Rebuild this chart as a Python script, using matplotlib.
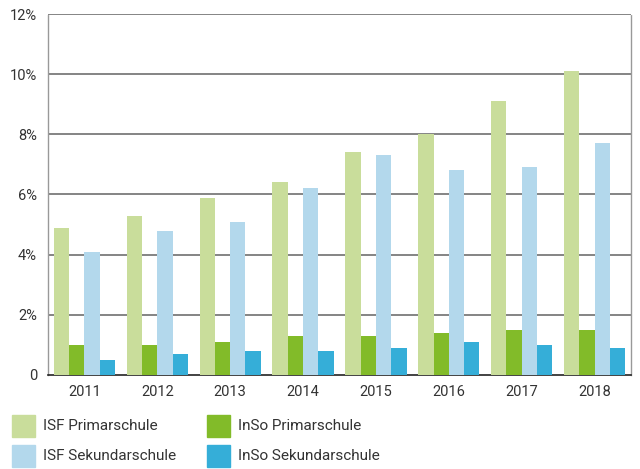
import matplotlib
matplotlib.use("Agg")
import matplotlib.pyplot as plt
from matplotlib.patches import Rectangle
import numpy as np

years = ["2011", "2012", "2013", "2014", "2015", "2016", "2017", "2018"]
series_names = ["ISF Primarschule", "InSo Primarschule", "ISF Sekundarschule", "InSo Sekundarschule"]
isf_primar = [4.9, 5.3, 5.9, 6.4, 7.4, 8.0, 9.1, 10.1]
inso_primar = [1.0, 1.0, 1.1, 1.3, 1.3, 1.4, 1.5, 1.5]
isf_sek = [4.1, 4.8, 5.1, 6.2, 7.3, 6.8, 6.9, 7.7]
inso_sek = [0.5, 0.7, 0.8, 0.8, 0.9, 1.1, 1.0, 0.9]
yticks = [0, 2, 4, 6, 8, 10, 12]
ytick_labels = ["0", "2%", "4%", "6%", "8%", "10%", "12%"]
colors = ["#c9dd9b", "#82bb29", "#b3d8ec", "#35aed8"]

plt.rcParams['font.family'] = ['Roboto', 'DejaVu Sans']

fig = plt.figure(figsize=(6.4, 4.69), dpi=100)
ax = fig.add_axes([48/640, 1-375/469, (631-48)/640, (375-14)/469])

x = np.arange(len(years))
w = 0.21
data = [isf_primar, inso_primar, isf_sek, inso_sek]
offsets = [-1.5, -0.5, 0.5, 1.5]
for vals, off, c in zip(data, offsets, colors):
    ax.bar(x + off*w, vals, width=w, color=c, zorder=3)

ax.set_xlim(-0.5, len(years)-0.5)
ax.set_ylim(0, 12)
ax.set_yticks(yticks)
ax.set_yticklabels(ytick_labels)
ax.set_xticks(x)
ax.set_xticklabels(years)
ax.tick_params(axis='both', length=0, labelsize=10.5, colors='#333333')
ax.tick_params(axis='y', pad=8)
ax.tick_params(axis='x', pad=7)
for t in yticks[1:]:
    ax.axhline(t, color='#6f6f6f', lw=1.2, zorder=1)
ax.spines['top'].set_visible(False)
ax.spines['bottom'].set_color('#222222')
ax.spines['bottom'].set_linewidth(1.2)
for s in ['left', 'right']:
    ax.spines[s].set_color('#999999')
    ax.spines[s].set_linestyle((0, (1, 1)))
    ax.spines[s].set_linewidth(1.0)

# legend
pos = [(12, 415), (207, 415), (12, 445), (207, 445)]
for name, c, (px, py) in zip(series_names, colors, pos):
    fig.add_artist(Rectangle((px/640, 1-(py+22)/469), 23/640, 22/469,
                             transform=fig.transFigure, color=c))
    fig.text((px+31)/640, 1-(py+11)/469, name, va='center', ha='left',
             fontsize=11, color='#333333')

fig.savefig("out.png", dpi=100)
